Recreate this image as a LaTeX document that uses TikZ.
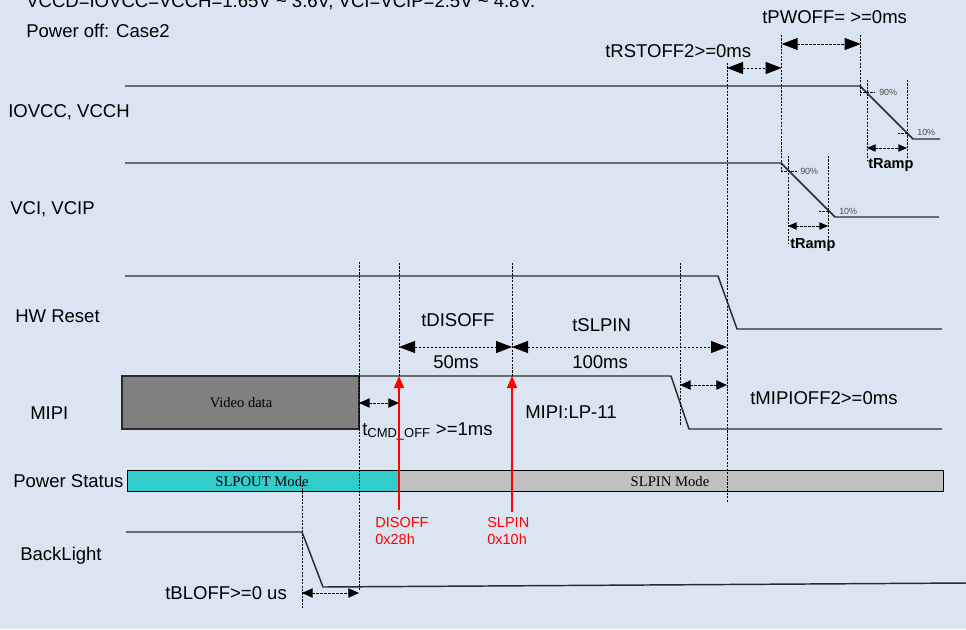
\documentclass[tikz,border=0pt]{standalone}
\usepackage{fontspec}
\setmainfont{Liberation Sans}
\newfontfamily\timesfont{Liberation Serif}
\usetikzlibrary{arrows.meta}
\definecolor{bgblue}{HTML}{DBE5F1}
\definecolor{sigc}{HTML}{2B2B2B}
\definecolor{cVid}{HTML}{808080}
\definecolor{cOut}{HTML}{33CCCC}
\definecolor{cIn}{HTML}{C0C0C0}

\tikzset{
  lbl/.style={anchor=base west, inner sep=0pt, font=\fontsize{13.9}{16}\selectfont},
  cmd/.style={anchor=base west, inner sep=0pt, text=red, font=\fontsize{10.9}{13}\selectfont},
  pct/.style={anchor=base west, inner sep=0pt, font=\fontsize{6.7}{8}\selectfont, text=black!70},
  wave/.style={draw=sigc, line width=1.1pt, line join=round},
  guide/.style={draw=black, line width=0.6pt, dash pattern=on 1.6pt off 1pt},
  dimbig/.style={line width=0.7pt, dash pattern=on 2pt off 1pt, {Triangle[length=12pt,width=9pt]}-{Triangle[length=12pt,width=9pt]}},
  dimmid/.style={line width=0.7pt, dash pattern=on 2pt off 1pt, {Triangle[length=8pt,width=7pt]}-{Triangle[length=8pt,width=7pt]}},
  dimsmall/.style={line width=0.7pt, dash pattern=on 2pt off 1pt, {Triangle[length=6.5pt,width=5.5pt]}-{Triangle[length=6.5pt,width=5.5pt]}},
}

\begin{document}
\begin{tikzpicture}[x=0.75pt, y=-0.75pt]
  \useasboundingbox (0,0) rectangle (966,629);
  \fill[bgblue] (0,0) rectangle (966,629);

  % header and signal names
  \node[lbl] (hdr) at (26,7) {VCCD=IOVCC=VCCH=1.65V \textasciitilde{} 3.6V, VCI=VCIP=2.5V \textasciitilde{} 4.8V.};
  \node[lbl] (case) at (26,37) {Power off: Case2};
  \foreach \n/\x/\y/\txt in {iovcc/8/117/{IOVCC, VCCH}, vci/10/214/{VCI, VCIP}, hwrst/15/322/{HW Reset},
    mipi/30/419/MIPI, pwst/13/487/{Power Status}, blight/20/560/BackLight}{
    \node[lbl] (\n) at (\x,\y) {\txt};
  }

  % power status bar
  \draw[fill=cOut, line width=0.7pt] (127,470) rectangle (399,491);
  \draw[fill=cIn, line width=0.7pt] (399,470) rectangle (943,491);
  \node[anchor=base, inner sep=0pt, font=\timesfont\fontsize{11}{13}\selectfont] (slpout) at (262,486) {SLPOUT Mode};
  \node[anchor=base, inner sep=0pt, font=\timesfont\fontsize{11}{13}\selectfont] (slpinm) at (670,486) {SLPIN Mode};

  % video data
  \draw[fill=cVid, draw=sigc, line width=0.9pt] (122,376) rectangle (359,429);
  \node[anchor=base, inner sep=0pt, font=\timesfont\fontsize{10.9}{13}\selectfont] (video) at (241,407) {Video data};

  % waveforms
  \draw[wave] (125,86) -- (860,86) -- (913,139) -- (940,139);
  \draw[wave] (125,163) -- (781,163) -- (835,217) -- (939,217);
  \draw[wave] (125,276) -- (718,276) -- (737,329) -- (942,329);
  \draw[wave] (359,376) -- (671,376) -- (689,429) -- (942,429);
  \draw[wave] (126,532) -- (302,532) -- (323,587) -- (966,583);

  % timing guides
  \foreach \n/\x/\ya/\yb in {bl/302/485/608, vd/359/262/590, dis/399/263/376, slp/512/263/376,
    mip/680/263/425, rst/727/63/502, pw/781.7/35/173, io/860.7/35/97,
    ra/867/80/160, rb/907/80/160, rc/788/156/243, rd/828/156/243}{
    \draw[guide] (\x,\ya) coordinate (\n) -- (\x,\yb);
  }
  \draw[guide] (860,92.7) -- (875,92.7);
  \draw[guide] (898,133) -- (908,133);
  \draw[guide] (781,171.7) -- (797,171.7);
  \draw[guide] (819,211) -- (829,211);
  \node[pct] (p90a) at (879,95.7) {90\%};
  \node[pct] (p10a) at (917,135) {10\%};
  \node[pct] (p90b) at (800,174.3) {90\%};
  \node[pct] (p10b) at (839,214.3) {10\%};

  % dimension arrows
  \draw[dimbig] (pw |- 0,44) -- (io |- 0,44);
  \draw[dimbig] (rst |- 0,68) -- (pw |- 0,68);
  \draw[dimsmall] (ra |- 0,148) -- (rb |- 0,148);
  \draw[dimsmall] (rc |- 0,226) -- (rd |- 0,226);
  \draw[dimbig] (dis |- 0,347) -- (slp |- 0,347);
  \draw[dimbig] (slp |- 0,347) -- (rst |- 0,347);
  \draw[dimmid] (mip |- 0,385) -- (rst |- 0,385);
  \draw[dimmid] (vd |- 0,403) -- (dis |- 0,403);
  \draw[dimmid] (bl |- 0,593) -- (vd |- 0,593);

  \node[lbl] (tpwoff) at (762,23) {tPWOFF= >=0ms};
  \node[lbl] (trst) at (605,57) {tRSTOFF2>=0ms};
  \node[lbl, font=\bfseries\fontsize{10.9}{13}\selectfont] (rampa) at (868,168.5) {tRamp};
  \node[lbl, font=\bfseries\fontsize{10.9}{13}\selectfont] (rampb) at (790,248) {tRamp};
  \node[lbl] (tdis) at (421,326) {tDISOFF};
  \node[lbl] (tslp) at (572,331) {tSLPIN};
  \node[lbl] (ms50) at (433,368) {50ms};
  \node[lbl] (ms100) at (572,368) {100ms};
  \node[lbl] (lp11) at (525,418) {MIPI:LP-11};
  \node[lbl] (tmipi) at (750,404) {tMIPIOFF2>=0ms};
  \node[lbl] (tcmd) at (362,435) {t\textsubscript{CMD\_OFF} >=1ms};
  \node[lbl] (tbl) at (165,599) {tBLOFF>=0 us};

  % commands
  \draw[red, line width=1.1pt, -{Triangle[length=9pt,width=7.5pt]}] (399,510) -- (dis |- 0,376);
  \draw[red, line width=1.1pt, -{Triangle[length=9pt,width=7.5pt]}] (512,512) -- (slp |- 0,376);
  \foreach \n/\x/\y/\txt in {disoff/375/527/DISOFF, disoffhex/375/544/0x28h,
    slpin/487/527/SLPIN, slpinhex/487/544/0x10h}{
    \node[cmd] (\n) at (\x,\y) {\txt};
  }
\end{tikzpicture}
\end{document}
